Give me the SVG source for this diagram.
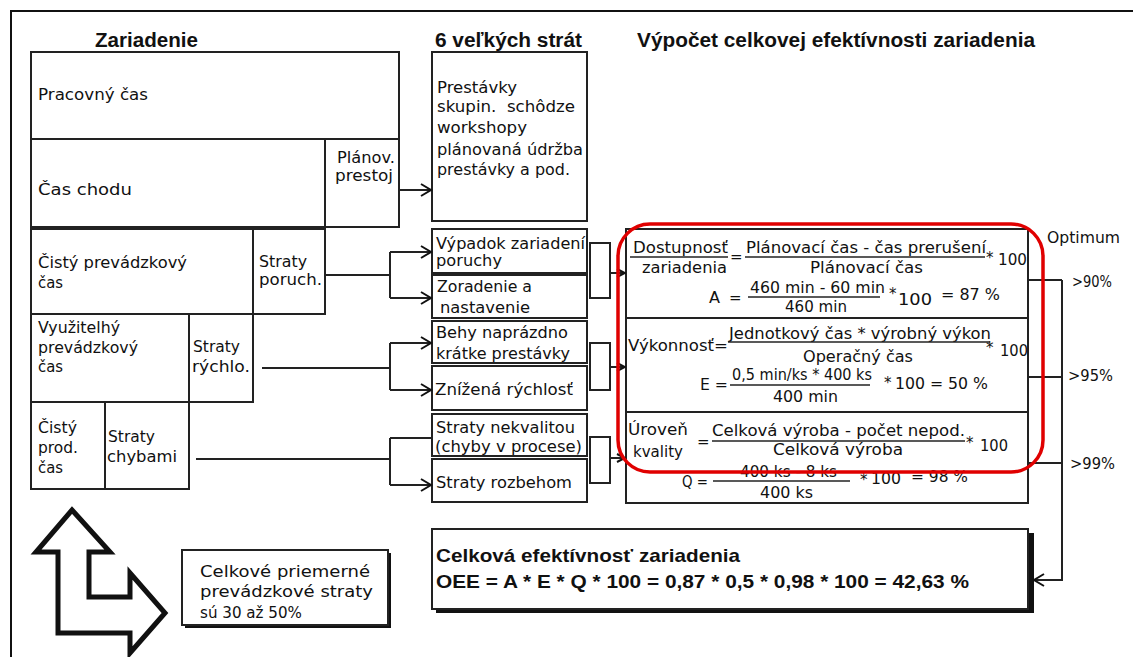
<svg xmlns="http://www.w3.org/2000/svg" width="1133" height="657" viewBox="0 0 1133 657">
<defs>
<style>
.t{font-family:"DejaVu Sans","Liberation Sans",sans-serif;font-size:15px;fill:#111}
.h{font-family:"Liberation Sans",Arial,sans-serif;font-weight:bold;font-size:20px;fill:#111}
.hb{font-family:"Liberation Sans",Arial,sans-serif;font-weight:bold;font-size:19px;fill:#111}
.box{fill:#fff;stroke:#222;stroke-width:2}
.ln{stroke:#222;stroke-width:2;fill:none}
.bar{stroke:#222;stroke-width:1.5}
.sh{fill:#111}
</style>
<marker id="arr" markerUnits="userSpaceOnUse" markerWidth="14" markerHeight="14" refX="12" refY="7" orient="auto">
<path d="M2,1 L12,7 L2,13" fill="none" stroke="#111" stroke-width="2"/>
</marker>
<marker id="arrs" markerUnits="userSpaceOnUse" markerWidth="10" markerHeight="10" refX="9" refY="5" orient="auto">
<path d="M1,1 L9,5 L1,9" fill="none" stroke="#111" stroke-width="2"/>
</marker>
</defs>
<rect width="1133" height="657" fill="#fff"/>
<path d="M10,11 H1133 M11,11 V657" stroke="#111" stroke-width="2" fill="none"/>

<g id="headers">
<text class="h" x="95" y="47" textLength="103" lengthAdjust="spacingAndGlyphs">Zariadenie</text>
<text class="h" x="435" y="47" textLength="147" lengthAdjust="spacingAndGlyphs">6 veľkých strát</text>
<text class="h" x="637" y="47" textLength="398" lengthAdjust="spacingAndGlyphs">Výpočet celkovej efektívnosti zariadenia</text>
</g>

<g id="pracovny-cas">
<rect class="box" x="31" y="52" width="368" height="87"/>
<text class="t" x="38" y="100" textLength="110" lengthAdjust="spacingAndGlyphs">Pracovný čas</text>
</g>
<g id="cas-chodu">
<rect class="box" x="31" y="139" width="294" height="88"/>
<text class="t" x="38" y="195" textLength="94" lengthAdjust="spacingAndGlyphs">Čas chodu</text>
</g>
<g id="planov-prestoj">
<rect class="box" x="325" y="139" width="74" height="88"/>
<text class="t" x="337" y="163" textLength="58" lengthAdjust="spacingAndGlyphs">Plánov.</text>
<text class="t" x="335" y="181" textLength="58" lengthAdjust="spacingAndGlyphs">prestoj</text>
</g>
<g id="cisty-prevadzkovy-cas">
<rect class="box" x="31" y="229" width="222" height="85"/>
<text class="t" x="38" y="268" textLength="149" lengthAdjust="spacingAndGlyphs">Čistý prevádzkový</text>
<text class="t" x="38" y="288" textLength="25" lengthAdjust="spacingAndGlyphs">čas</text>
</g>
<g id="straty-poruch">
<rect class="box" x="253" y="229" width="72" height="85"/>
<text class="t" x="259" y="267" textLength="48" lengthAdjust="spacingAndGlyphs">Straty</text>
<text class="t" x="259" y="285" textLength="63" lengthAdjust="spacingAndGlyphs">poruch.</text>
</g>
<g id="vyuzitelny-cas">
<rect class="box" x="31" y="314" width="158" height="88"/>
<text class="t" x="38" y="333" textLength="82" lengthAdjust="spacingAndGlyphs">Využitelhý</text>
<text class="t" x="38" y="353" textLength="100" lengthAdjust="spacingAndGlyphs">prevádzkový</text>
<text class="t" x="38" y="372" textLength="25" lengthAdjust="spacingAndGlyphs">čas</text>
</g>
<g id="straty-rychlo">
<rect class="box" x="189" y="314" width="64" height="88"/>
<text class="t" x="193" y="352" textLength="47" lengthAdjust="spacingAndGlyphs">Straty</text>
<text class="t" x="192" y="372" textLength="58" lengthAdjust="spacingAndGlyphs">rýchlo.</text>
</g>
<g id="cisty-prod-cas">
<rect class="box" x="31" y="402" width="74" height="87"/>
<text class="t" x="38" y="433" textLength="39" lengthAdjust="spacingAndGlyphs">Čistý</text>
<text class="t" x="38" y="453" textLength="40" lengthAdjust="spacingAndGlyphs">prod.</text>
<text class="t" x="38" y="473" textLength="25" lengthAdjust="spacingAndGlyphs">čas</text>
</g>
<g id="straty-chybami">
<rect class="box" x="105" y="402" width="84" height="87"/>
<text class="t" x="108" y="442" textLength="47" lengthAdjust="spacingAndGlyphs">Straty</text>
<text class="t" x="107" y="462" textLength="70" lengthAdjust="spacingAndGlyphs">chybami</text>
</g>

<g id="prestavky">
<rect class="box" x="432" y="52" width="155" height="169"/>
<text class="t" x="437" y="93" textLength="80" lengthAdjust="spacingAndGlyphs">Prestávky</text>
<text class="t" x="437" y="112" textLength="138" lengthAdjust="spacingAndGlyphs" xml:space="preserve">skupin.  schôdze</text>
<text class="t" x="437" y="133" textLength="90" lengthAdjust="spacingAndGlyphs">workshopy</text>
<text class="t" x="437" y="155" textLength="146" lengthAdjust="spacingAndGlyphs">plánovaná údržba</text>
<text class="t" x="437" y="175" textLength="133" lengthAdjust="spacingAndGlyphs">prestávky a pod.</text>
</g>
<g id="vypadok">
<rect class="box" x="432" y="229" width="155" height="44"/>
<text class="t" x="436" y="249" textLength="149" lengthAdjust="spacingAndGlyphs">Výpadok zariadení</text>
<text class="t" x="436" y="266" textLength="66" lengthAdjust="spacingAndGlyphs">poruchy</text>
</g>
<g id="zoradenie">
<rect class="box" x="432" y="275" width="155" height="43"/>
<text class="t" x="437" y="292" textLength="95" lengthAdjust="spacingAndGlyphs">Zoradenie a</text>
<text class="t" x="440" y="313" textLength="90" lengthAdjust="spacingAndGlyphs">nastavenie</text>
</g>
<g id="behy">
<rect class="box" x="432" y="321" width="155" height="42"/>
<text class="t" x="436" y="338" textLength="132" lengthAdjust="spacingAndGlyphs">Behy naprázdno</text>
<text class="t" x="436" y="359" textLength="134" lengthAdjust="spacingAndGlyphs">krátke prestávky</text>
</g>
<g id="znizena">
<rect class="box" x="432" y="366" width="155" height="44"/>
<text class="t" x="435" y="395" textLength="138" lengthAdjust="spacingAndGlyphs">Znížená rýchlosť</text>
</g>
<g id="nekvalitou">
<rect class="box" x="432" y="414" width="155" height="42"/>
<text class="t" x="436" y="433" textLength="139" lengthAdjust="spacingAndGlyphs">Straty nekvalitou</text>
<text class="t" x="435" y="452" textLength="147" lengthAdjust="spacingAndGlyphs">(chyby v procese)</text>
</g>
<g id="rozbehom">
<rect class="box" x="432" y="459" width="155" height="43"/>
<text class="t" x="436" y="488" textLength="136" lengthAdjust="spacingAndGlyphs">Straty rozbehom</text>
</g>

<g id="formulas">
<rect class="box" x="626" y="229" width="402" height="274"/>
<path class="ln" d="M626,318 H1028 M626,412 H1028"/>
<g id="dostupnost">
<text class="t" x="633" y="253" textLength="95" lengthAdjust="spacingAndGlyphs">Dostupnosť</text>
<line class="bar" x1="630" y1="257" x2="728" y2="257"/>
<text class="t" x="642" y="273" textLength="85" lengthAdjust="spacingAndGlyphs">zariadenia</text>
<text class="t" x="730" y="262">=</text>
<text class="t" x="746" y="253" textLength="240" lengthAdjust="spacingAndGlyphs">Plánovací čas - čas prerušení</text>
<line class="bar" x1="745" y1="257" x2="985" y2="257"/>
<text class="t" x="810" y="273" textLength="113" lengthAdjust="spacingAndGlyphs">Plánovací čas</text>
<text class="t" x="986" y="263">*</text>
<text class="t" x="998" y="265" textLength="29" lengthAdjust="spacingAndGlyphs">100</text>
<text class="t" x="709" y="303" textLength="11" lengthAdjust="spacingAndGlyphs">A</text>
<text class="t" x="729" y="303">=</text>
<text class="t" x="750" y="293" textLength="135" lengthAdjust="spacingAndGlyphs">460 min - 60 min</text>
<line class="bar" x1="748" y1="297" x2="880" y2="297"/>
<text class="t" x="785" y="312" textLength="62" lengthAdjust="spacingAndGlyphs">460 min</text>
<text class="t" x="889" y="299">*</text>
<text class="t" x="898" y="305" textLength="34" lengthAdjust="spacingAndGlyphs">100</text>
<text class="t" x="941" y="300" textLength="59" lengthAdjust="spacingAndGlyphs">= 87 %</text>
</g>
<g id="vykonnost">
<text class="t" x="628" y="351" textLength="100" lengthAdjust="spacingAndGlyphs">Výkonnosť=</text>
<text class="t" x="729" y="339" textLength="262" lengthAdjust="spacingAndGlyphs">Jednotkový čas * výrobný výkon</text>
<line class="bar" x1="728" y1="342" x2="990" y2="342"/>
<text class="t" x="803" y="362" textLength="110" lengthAdjust="spacingAndGlyphs">Operačný čas</text>
<text class="t" x="986" y="353">*</text>
<text class="t" x="1000" y="356" textLength="28" lengthAdjust="spacingAndGlyphs">100</text>
<text class="t" x="700" y="390" textLength="28" lengthAdjust="spacingAndGlyphs">E =</text>
<text class="t" x="732" y="380" textLength="140" lengthAdjust="spacingAndGlyphs">0,5 min/ks * 400 ks</text>
<line class="bar" x1="730" y1="385" x2="870" y2="385"/>
<text class="t" x="773" y="402" textLength="65" lengthAdjust="spacingAndGlyphs">400 min</text>
<text class="t" x="884" y="388">*</text>
<text class="t" x="895" y="389" textLength="93" lengthAdjust="spacingAndGlyphs">100 = 50 %</text>
</g>
<g id="uroven">
<text class="t" x="628" y="435" textLength="60" lengthAdjust="spacingAndGlyphs">Úroveň</text>
<text class="t" x="633" y="457" textLength="50" lengthAdjust="spacingAndGlyphs">kvality</text>
<text class="t" x="697" y="447">=</text>
<text class="t" x="712" y="436" textLength="253" lengthAdjust="spacingAndGlyphs">Celková výroba - počet nepod.</text>
<line class="bar" x1="712" y1="441" x2="965" y2="441"/>
<text class="t" x="773" y="455" textLength="130" lengthAdjust="spacingAndGlyphs">Celková výroba</text>
<text class="t" x="966" y="448">*</text>
<text class="t" x="980" y="451" textLength="28" lengthAdjust="spacingAndGlyphs">100</text>
<text class="t" x="682" y="487" textLength="26" lengthAdjust="spacingAndGlyphs">Q =</text>
<text class="t" x="740" y="477" textLength="97" lengthAdjust="spacingAndGlyphs">400 ks - 8 ks</text>
<line class="bar" x1="713" y1="481" x2="850" y2="481"/>
<text class="t" x="760" y="498" textLength="53" lengthAdjust="spacingAndGlyphs">400 ks</text>
<text class="t" x="860" y="485">*</text>
<text class="t" x="871" y="484" textLength="30" lengthAdjust="spacingAndGlyphs">100</text>
<text class="t" x="911" y="482" textLength="57" lengthAdjust="spacingAndGlyphs">= 98 %</text>
</g>
</g>

<g id="optimum">
<text class="t" x="1047" y="243" textLength="73" lengthAdjust="spacingAndGlyphs">Optimum</text>
<text class="t" x="1072" y="287" textLength="40" lengthAdjust="spacingAndGlyphs">&gt;90%</text>
<text class="t" x="1068" y="381" textLength="45" lengthAdjust="spacingAndGlyphs">&gt;95%</text>
<text class="t" x="1070" y="469" textLength="45" lengthAdjust="spacingAndGlyphs">&gt;99%</text>
</g>

<g id="oee">
<rect class="sh" x="436" y="533" width="598" height="80"/>
<rect class="box" x="432" y="529" width="596" height="80"/>
<text class="hb" x="436" y="562" textLength="304" lengthAdjust="spacingAndGlyphs">Celková efektívnosť zariadenia</text>
<text class="hb" x="436" y="588" textLength="533" lengthAdjust="spacingAndGlyphs">OEE = A * E * Q * 100 = 0,87 * 0,5 * 0,98 * 100 = 42,63 %</text>
</g>

<g id="note">
<rect class="sh" x="185" y="553" width="206" height="75"/>
<rect class="box" x="182" y="550" width="206" height="75"/>
<text class="t" x="200" y="577" textLength="170" lengthAdjust="spacingAndGlyphs">Celkové priemerné</text>
<text class="t" x="200" y="597" textLength="173" lengthAdjust="spacingAndGlyphs">prevádzkové straty</text>
<text class="t" x="200" y="618" textLength="102" lengthAdjust="spacingAndGlyphs">sú 30 až 50%</text>
</g>

<g id="big-arrow">
<polygon points="72,510 110,552 89,552 89,597 130,597 130,573 165,613 130,653 130,633 58,633 58,552 36,552" fill="#fff" stroke="#111" stroke-width="5" stroke-linejoin="miter"/>
</g>

<g id="connectors" class="ln">
<path d="M399,190 H431" marker-end="url(#arr)"/>
<path d="M325,275 H390 M390,252 V298"/>
<path d="M390,252 H431" marker-end="url(#arr)"/>
<path d="M390,298 H431" marker-end="url(#arr)"/>
<path d="M262,368 H390 M390,343 V390"/>
<path d="M390,343 H431" marker-end="url(#arr)"/>
<path d="M390,390 H431" marker-end="url(#arr)"/>
<path d="M196,459 H390 M390,438 V485 M390,438 H432"/>
<path d="M390,485 H431" marker-end="url(#arr)"/>
<rect x="590" y="243" width="20" height="55"/>
<rect x="590" y="343" width="20" height="47"/>
<rect x="590" y="437" width="20" height="46"/>
<path d="M610,273 H625" marker-end="url(#arrs)"/>
<path d="M610,367 H625" marker-end="url(#arrs)"/>
<path d="M610,458 H625" marker-end="url(#arrs)"/>
<path d="M1028,280 H1062 M1028,377 H1062 M1028,463 H1062"/>
<path d="M1062,280 V580 H1034" marker-end="url(#arr)"/>
</g>

<rect id="highlight" x="618" y="224" width="425" height="248" rx="32" ry="32" fill="none" stroke="#e00000" stroke-width="3.5"/>
</svg>
